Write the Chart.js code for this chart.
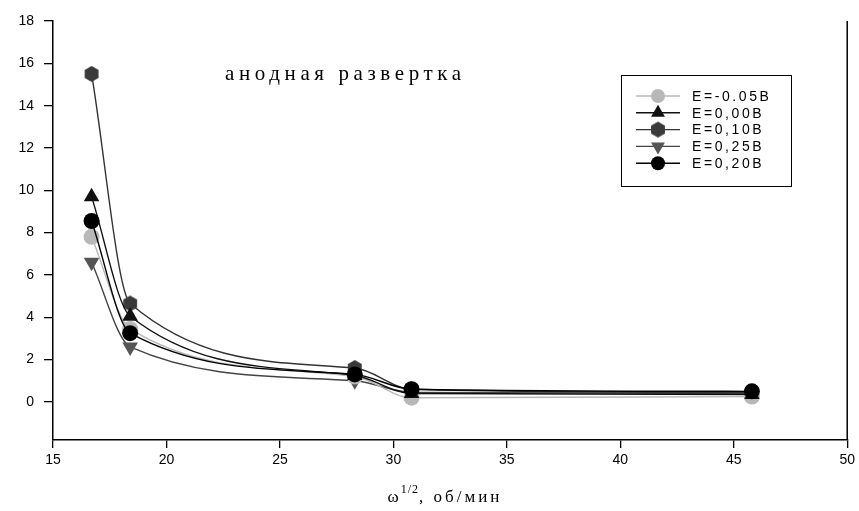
<!DOCTYPE html>
<html>
<head>
<meta charset="utf-8">
<script src="https://cdn.jsdelivr.net/npm/chart.js@4/dist/chart.umd.min.js"></script>
<style>
  html, body { margin: 0; padding: 0; background: #fff; }
  #wrap { width: 859px; height: 511px; }
</style>
</head>
<body>
<div id="wrap"><canvas id="chart" width="859" height="511"></canvas></div>
<script>
// ------------------ DONNEES ------------------
const omega = [16.7, 18.4, 28.3, 30.8, 45.8];
const seriesNames = ['E=-0.05B', 'E=0,00B', 'E=0,10B', 'E=0,25B', 'E=0,20B'];
const eMinus005 = [7.8, 3.45, 1.2, 0.2, 0.25];
const e000 = [9.7, 4.05, 1.25, 0.4, 0.35];
const e010 = [15.5, 4.65, 1.6, 0.6, 0.45];
const e025 = [6.6, 2.6, 1.0, 0.45, 0.4];
const e020 = [8.55, 3.25, 1.3, 0.6, 0.5];
const xTicks = [15, 20, 25, 30, 35, 40, 45, 50];
const yTicks = [0, 2, 4, 6, 8, 10, 12, 14, 16, 18];
const annotationText = 'анодная развертка';
const xTitleMain = 'ω';
const xTitleSup = '1/2';
const xTitleRest = ', об/мин';

// Marqueur hexagonal (pas de style natif dans Chart.js)
function makeHexagon(r, color) {
    const c = document.createElement('canvas');
    c.width = c.height = r * 2 + 2;
    const ctx = c.getContext('2d');
    ctx.fillStyle = color;
    ctx.beginPath();
    for (let i = 0; i < 6; i++) {
        const a = Math.PI / 2 + i * Math.PI / 3;
        const px = r + 1 + r * Math.cos(a);
        const py = r + 1 + r * Math.sin(a);
        if (i === 0) ctx.moveTo(px, py); else ctx.lineTo(px, py);
    }
    ctx.closePath();
    ctx.fill();
    return c;
}
const hexMarker = makeHexagon(8, '#3a3a3a');

function toPoints(ys) {
    return omega.map((x, i) => ({ x: x, y: ys[i] }));
}

const datasets = [
    { label: seriesNames[0], data: toPoints(eMinus005), borderColor: '#b8b8b8', backgroundColor: '#b8b8b8',
      pointStyle: 'circle', pointRadius: 8, order: 3 },
    { label: seriesNames[1], data: toPoints(e000), borderColor: '#111', backgroundColor: '#111',
      pointStyle: 'triangle', pointRadius: 9, order: 2 },
    { label: seriesNames[2], data: toPoints(e010), borderColor: '#333', backgroundColor: '#3a3a3a',
      pointStyle: hexMarker, pointRadius: 8, order: 4 },
    { label: seriesNames[3], data: toPoints(e025), borderColor: '#444', backgroundColor: '#555',
      pointStyle: 'triangle', pointRotation: 180, pointRadius: 9, order: 5 },
    { label: seriesNames[4], data: toPoints(e020), borderColor: '#000', backgroundColor: '#000',
      pointStyle: 'circle', pointRadius: 8, order: 0 }
];
datasets.forEach(d => {
    d.borderWidth = 1.4;
    d.pointBorderWidth = 0;
    d.cubicInterpolationMode = 'monotone';
    d.fill = false;
});

// Cadre droit, légende, annotation et titre de l'axe x
const extrasPlugin = {
    id: 'extras',
    afterDraw(chart) {
        const ctx = chart.ctx;
        const area = chart.chartArea;
        ctx.save();

        // bord droit
        ctx.strokeStyle = '#000';
        ctx.lineWidth = 1.5;
        ctx.beginPath();
        ctx.moveTo(area.right, area.top);
        ctx.lineTo(area.right, area.bottom);
        ctx.stroke();

        // annotation
        ctx.fillStyle = '#000';
        ctx.font = '21px "Liberation Serif"';
        ctx.letterSpacing = '4.6px';
        ctx.textAlign = 'left';
        ctx.textBaseline = 'alphabetic';
        ctx.fillText(annotationText, 225, 80);

        // légende
        const lx = 621, ly = 75, lw = 170, lh = 111;
        ctx.letterSpacing = '0px';
        ctx.lineWidth = 1;
        ctx.strokeStyle = '#000';
        ctx.strokeRect(lx + 0.5, ly + 0.5, lw, lh);
        chart.data.datasets.forEach((d, i) => {
            const y = 96 + i * 16.8;
            ctx.strokeStyle = d.borderColor;
            ctx.lineWidth = 1.4;
            ctx.beginPath();
            ctx.moveTo(636, y);
            ctx.lineTo(680, y);
            ctx.stroke();
            ctx.fillStyle = d.backgroundColor;
            Chart.helpers.drawPoint(ctx, {
                pointStyle: d.pointStyle, radius: d.pointStyle === 'triangle' ? 8 : 7,
                rotation: d.pointRotation || 0, borderWidth: 0
            }, 658, y);
            ctx.fillStyle = '#000';
            ctx.font = '14px "Liberation Sans"';
            ctx.letterSpacing = '2.6px';
            ctx.textBaseline = 'middle';
            ctx.fillText(d.label, 692, y + 1);
            ctx.letterSpacing = '0px';
        });

        // titre de l'axe x avec exposant
        ctx.fillStyle = '#000';
        ctx.textBaseline = 'alphabetic';
        ctx.font = '17px "Liberation Serif"';
        ctx.letterSpacing = '0px';
        const w1 = ctx.measureText(xTitleMain).width;
        ctx.font = '12px "Liberation Serif"';
        ctx.letterSpacing = '1px';
        const w2 = ctx.measureText(xTitleSup).width;
        ctx.font = '17px "Liberation Serif"';
        ctx.letterSpacing = '3px';
        const w3 = ctx.measureText(xTitleRest).width;
        let tx = 444 - (w1 + w2 + w3) / 2;
        const base = 502;
        ctx.letterSpacing = '0px';
        ctx.fillText(xTitleMain, tx, base);
        tx += w1 + 2;
        ctx.font = '12px "Liberation Serif"';
        ctx.letterSpacing = '1px';
        ctx.fillText(xTitleSup, tx, base - 9);
        tx += w2;
        ctx.font = '17px "Liberation Serif"';
        ctx.letterSpacing = '3px';
        ctx.fillText(xTitleRest, tx, base);

        ctx.restore();
    }
};

const tickFont = { family: '"Liberation Sans", Arial, sans-serif', size: 14 };

new Chart(document.getElementById('chart').getContext('2d'), {
    type: 'line',
    data: { datasets: datasets },
    options: {
        responsive: false,
        animation: false,
        layout: { padding: { top: 21, right: 9, left: 0, bottom: 0 } },
        plugins: { legend: { display: false }, tooltip: { enabled: false } },
        scales: {
            x: {
                type: 'linear',
                min: 15,
                max: 50,
                afterBuildTicks: s => { s.ticks = xTicks.map(v => ({ value: v })); },
                ticks: { color: '#000', font: tickFont, padding: 4, maxRotation: 0 },
                grid: { drawOnChartArea: false, drawTicks: true, tickLength: 8, color: '#000', lineWidth: 1.3 },
                border: { color: '#000', width: 1.5 },
                afterFit: s => { s.height = 71; }
            },
            y: {
                type: 'linear',
                min: -1.8,
                max: 18,
                afterBuildTicks: s => { s.ticks = yTicks.map(v => ({ value: v })); },
                ticks: { color: '#000', font: tickFont, padding: 10 },
                grid: { drawOnChartArea: false, drawTicks: true, tickLength: 9, color: '#000', lineWidth: 1.3 },
                border: { color: '#000', width: 1.5 },
                afterFit: s => { s.width = 53; }
            }
        }
    },
    plugins: [extrasPlugin]
});
</script>
</body>
</html>
